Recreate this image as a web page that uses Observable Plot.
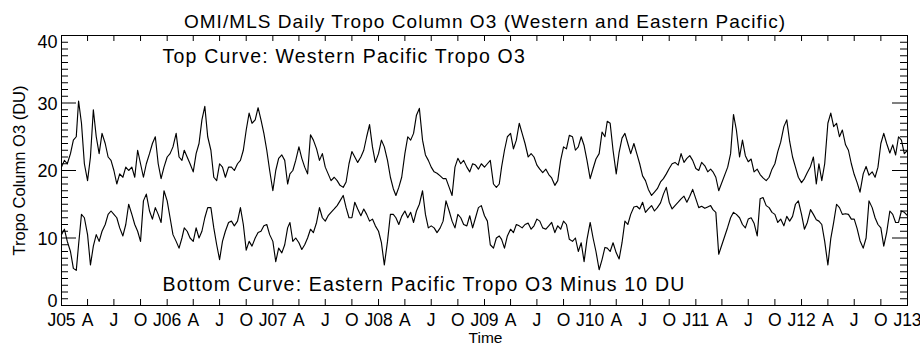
<!DOCTYPE html>
<html>
<head>
<meta charset="utf-8">
<script src="https://cdn.jsdelivr.net/npm/d3@7"></script>
<script src="https://cdn.jsdelivr.net/npm/@observablehq/plot@0.6"></script>
<style>
  html, body { margin: 0; padding: 0; background: #fff; }
  #chart { width: 920px; height: 345px; }
</style>
</head>
<body>
<div id="chart"></div>
<script>
// Western Pacific tropospheric column O3 (DU), sampled on the 1st, 11th and 21st of each month, Jan 2005 - Jan 2013
const westernPacific = [
  20.5,21.5,21,22.5,24.5,25,30.3,27,21,18.5,
  22,29,25,22.5,25.5,24,22,21.5,20,18,
  19.5,19,20.5,20,20.5,19,23,21,19,21,
  22.5,24,25,21,18.8,20.5,22,22.5,23.5,25.5,
  22,21.5,23,22,21,19.8,22.5,24,27.5,29.5,
  25,23,19,18.5,21,20.5,19,20.5,
  20.5,20,21,21.5,23,26,28.5,27,27.5,29.3,
  27.5,25.5,23,20,17,20,21.8,22.3,21.5,18,
  19.5,20,21.5,23.5,21.8,20.5,19.5,25.3,24.5,23.2,
  21.5,22.5,20.5,19.5,18.5,19,18.5,17.8,17.5,18.3,
  21,22.8,22,21.2,22,23,25,26.8,23.5,21.2,
  22.5,24.5,23.5,21.5,19,17.3,16.3,
  17.5,19,22.5,25,24.5,25.5,28.2,29.2,24.5,22.3,
  21.5,20.5,19.8,19.6,19.2,18.8,18.8,17.5,16.3,20.5,
  21.8,21,21.5,20.5,19.8,21,20.8,20.2,21,20.5,
  21,21.5,18,17.5,18,20.5,23,25,25.5,23.2,
  24.5,27,25.5,24,22,22.5,22,20.8,20.2,19.7,
  20.2,19.4,18.9,17.8,18.5,21.5,23.5,
  23.2,25.2,25,23,23.5,25,23.7,21.5,18.8,20.3,
  21.7,22.5,25.7,25,27.3,27,23,19.5,22.7,24.8,
  25.5,24,22.5,24,22.5,21,19.2,18.5,17.2,16.3,
  16.8,17.3,18.3,18.8,19.5,20.3,21,21.2,20.8,22.5,
  21.2,21.8,22.2,21.5,20.3,20,21.2,20.7,19.8,20.2,
  19.8,19,17,null,null,20.5,22.5,28.3,
  26,22,24.5,22.2,21.3,21.7,19.8,20.2,19.4,18.9,
  18.5,19,20.2,21,22.8,24.2,26.5,27.5,24.3,22,
  20.5,19,18.2,18.8,19.7,20.6,22,18,21,18.5,
  21,27,28.5,26.5,27,25,26,23.8,23,21,
  19.4,18.2,16.8,19.5,20.6,19.3,19.8,19,20.5,24,
  25.5,24,22.6,23.8,22.3,25,24.5,22.5,23
];
// Eastern Pacific tropospheric column O3 minus 10 DU, same sampling
const easternPacificMinus10 = [
  10.5,11.3,9.5,8,5.5,5.2,9,13.5,13,10.5,
  6,8.8,10.5,9.5,11,12,13.5,14,13.5,13,
  11.5,10.3,12,15,13.5,12,11,9.5,15.5,16.5,
  14,12.8,14.5,13.5,12.3,17,15.5,13,10.5,9.5,
  8.5,10,11.5,11,10,9.5,11.5,10,11,13,
  14.5,14.5,11.5,9,6.8,9.5,11,12.3,
  12.5,11.8,12.5,14.5,12,8.2,9.5,8.8,10,10.8,
  11,11.8,12,10.5,9.5,6.5,8.5,7.8,9,11.5,
  12.3,9.5,10,9.3,8.3,9,10,11.3,10.8,12.3,
  14.5,13,12.5,13.3,13.8,14.3,14.8,15.5,16.3,14.5,
  13,13,15.3,14.3,13.3,14.3,13.5,12.5,12.8,11.8,
  11,9.3,6,9.5,13.5,13.5,13,
  12,13.2,14,13,13.8,12.3,14,15,17,13.5,
  11.5,11.8,11.5,10.8,11.5,12.5,15.5,14,12.5,11.5,
  13.5,13,12,11.8,13.3,11.5,13,14.5,14.8,13.3,
  12.5,9,8.5,10,10.3,9.8,8.5,10.3,11.3,10.8,
  12,11.8,11.5,12,12.2,11.3,11.8,12.8,12.5,11.5,
  11.3,11.8,12.3,10.8,11.8,11.3,12.5,
  12,9.8,9.5,10,8,9.3,6.5,9.8,12.3,10,
  8,5.3,6.8,8.6,8.5,8,9.3,7.8,6.9,9.3,
  12.5,12,13.5,14.6,14.7,14.3,15.3,13.8,14.3,14.8,
  14,14.5,15.2,16.5,17.5,15.3,14.3,14.8,15.3,15.8,
  16.2,15.3,16.2,17.2,15.8,14.5,14.7,14.4,14.6,14.8,
  14.2,13.8,7.6,null,null,11.6,13,13.8,
  13.5,13,12,11.5,12.8,13,12.2,10.3,15.8,16,
  14.8,14.5,13.8,13.5,12.3,12.8,11.8,13.2,12.5,13.2,
  15,15.5,13.5,11.3,12.3,14.2,13.5,12.7,12.5,12,
  9.5,6,9.9,12.3,15,14.5,13.5,13.6,13.5,12.8,
  12.8,11.4,9.6,8.5,10,15.5,14.5,13,12,11.5,
  8.8,10.8,14,13.5,12.3,12.3,14,13.8,13.3
];
const sampleDays = [1, 11, 21];
const xTickLabels = [
  "J05","A","J","O","J06","A","J","O","J07","A","J","O","J08","A","J","O",
  "J09","A","J","O","J10","A","J","O","J11","A","J","O","J12","A","J","O","J13"
];
const yMajorTicks = [0, 10, 20, 30, 40];
const titleText = "OMI/MLS Daily Tropo Column O3 (Western and Eastern Pacific)";
const topNote = "Top Curve: Western Pacific Tropo O3";
const bottomNote = "Bottom Curve: Eastern Pacific Tropo O3 Minus 10 DU";
const xTitle = "Time";
const yTitle = "Tropo Column O3 (DU)";

const sampleDate = k => new Date(Date.UTC(2005 + Math.floor(k / 36), Math.floor((k % 36) / 3), sampleDays[k % 3]));
const toSeries = arr => arr.map((v, k) => ({date: sampleDate(k), v})).filter(d => d.v != null);
const west = toSeries(westernPacific);
const east = toSeries(easternPacificMinus10);

const start = new Date(Date.UTC(2005, 0, 1));
const end = new Date(Date.UTC(2013, 0, 1));
const xTicks = xTickLabels.map((_, i) => d3.utcMonth.offset(start, 3 * i));
const yMinorTicks = d3.range(0, 41).filter(v => v % 10 !== 0);

const W = 920, H = 345;
const mL = 61, mR = 13, mT = 35, mB = 40;
const pw = W - mL - mR, ph = H - mT - mB;
const font = "'Liberation Sans', Arial, Helvetica, sans-serif";
const txt = {fill: "#000", lineAnchor: "middle"};

const chart = Plot.plot({
  width: W, height: H,
  marginLeft: mL, marginRight: mR, marginTop: mT, marginBottom: mB,
  style: {fontFamily: font, color: "#000", background: "#fff", overflow: "visible"},
  x: {type: "utc", domain: [start, end], axis: null},
  y: {domain: [0, 40], axis: null},
  marks: [
    Plot.line(west, {x: "date", y: "v", stroke: "#000", strokeWidth: 1.15}),
    Plot.line(east, {x: "date", y: "v", stroke: "#000", strokeWidth: 1.15}),
    Plot.frame({stroke: "#000", strokeWidth: 1}),
    // inside ticks, left & right
    Plot.tickY(yMajorTicks, {y: d => d, stroke: "#000", insetRight: pw - 15}),
    Plot.tickY(yMinorTicks, {y: d => d, stroke: "#000", insetRight: pw - 7}),
    Plot.tickY(yMajorTicks, {y: d => d, stroke: "#000", insetLeft: pw - 15}),
    Plot.tickY(yMinorTicks, {y: d => d, stroke: "#000", insetLeft: pw - 7}),
    // inside ticks, bottom & top
    Plot.tickX(xTicks, {x: d => d, stroke: "#000", insetTop: ph - 6}),
    Plot.tickX(xTicks, {x: d => d, stroke: "#000", insetBottom: ph - 6}),
    // tick labels
    Plot.text(xTicks, {...txt, x: d => d, text: (d, i) => xTickLabels[i], frameAnchor: "bottom", dy: 15, fontSize: 17.5, textAnchor: "middle"}),
    Plot.text(yMajorTicks.filter(v => v > 0 && v < 40), {...txt, y: d => d, text: d => String(d), frameAnchor: "left", dx: -4, textAnchor: "end", dy: 1, fontSize: 18}),
    Plot.text(yMajorTicks.filter(v => v === 40), {...txt, y: d => d, text: d => String(d), frameAnchor: "left", dx: -4, textAnchor: "end", dy: 7, fontSize: 18}),
    Plot.text(yMajorTicks.filter(v => v === 0), {...txt, y: d => d, text: d => String(d), frameAnchor: "left", dx: -4, textAnchor: "end", dy: -4, fontSize: 18}),
    // titles
    Plot.text([titleText], {...txt, text: d => d, frameAnchor: "top", dy: -13.5, dx: 0.5, textAnchor: "middle", fontSize: 19}),
    Plot.text([topNote], {...txt, text: d => d, frameAnchor: "top-left", dx: 101, dy: 21.5, textAnchor: "start", fontSize: 19.5}),
    Plot.text([bottomNote], {...txt, text: d => d, frameAnchor: "bottom-left", dx: 101, dy: -20.5, textAnchor: "start", fontSize: 19.5}),
    Plot.text([xTitle], {...txt, text: d => d, frameAnchor: "bottom", dy: 32.5, dx: 1, textAnchor: "middle", fontSize: 15.5}),
    Plot.text([yTitle], {...txt, text: d => d, frameAnchor: "left", dx: -42, rotate: -90, textAnchor: "middle", fontSize: 16.5})
  ]
});
// widen the title and annotations to the reference's letter spacing
const spacing = new Map([[titleText, 1.05], [topNote, 1.2], [bottomNote, 1.16]]);
d3.select(chart).selectAll("text").each(function () {
  const s = spacing.get(this.textContent);
  if (s != null) this.setAttribute("letter-spacing", s);
});
document.getElementById("chart").appendChild(chart);
</script>
</body>
</html>
